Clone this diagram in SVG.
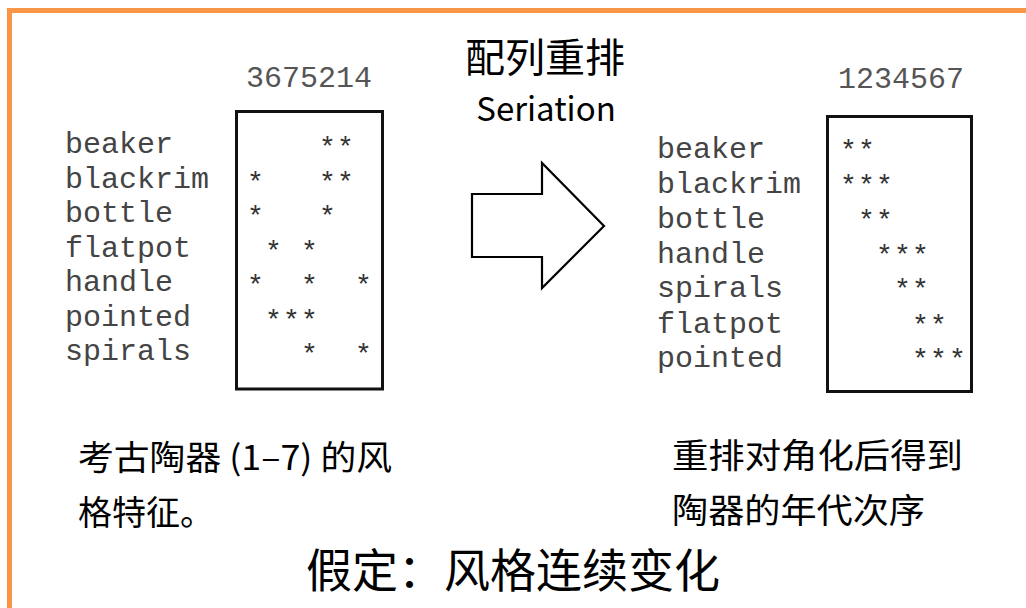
<svg xmlns="http://www.w3.org/2000/svg" width="1026" height="608" viewBox="0 0 1026 608">
<style>
.mono{font-family:"Liberation Mono","Courier New",monospace;font-size:30px;fill:#444}
.num{font-family:"Liberation Mono","Courier New",monospace;font-size:30px;fill:#555}
.star{font-family:"Liberation Mono","Courier New",monospace;font-size:28px;fill:#333}
.box{fill:none;stroke:#111;stroke-width:3}
.cjk{font-family:"Noto Sans CJK SC","Noto Sans",sans-serif;fill:#000}
</style>
<rect x="0" y="0" width="1026" height="608" fill="#fff"/>
<g id="frame"><rect x="9.5" y="10.5" width="1040" height="640" fill="none" stroke="#F79646" stroke-width="5"/></g>
<g id="title">
<text class="cjk" x="545" y="72" font-size="40" text-anchor="middle">配列重排</text>
<text class="cjk" x="546" y="121" font-size="33" text-anchor="middle">Seriation</text>
</g>
<g id="left-matrix">
<text class="num" x="246" y="87">3675214</text>
<rect class="box" x="236.5" y="111.5" width="146" height="277.5"/>
<text class="mono" x="65" y="153">beaker</text>
<text class="mono" x="65" y="188">blackrim</text>
<text class="mono" x="65" y="222">bottle</text>
<text class="mono" x="65" y="257">flatpot</text>
<text class="mono" x="65" y="291">handle</text>
<text class="mono" x="65" y="326">pointed</text>
<text class="mono" x="65" y="360">spirals</text>
<text class="star" x="319 337" y="156">**</text>
<text class="star" x="247 319 337" y="191">***</text>
<text class="star" x="247 319" y="225">**</text>
<text class="star" x="265 301" y="260">**</text>
<text class="star" x="247 301 355" y="294">***</text>
<text class="star" x="265 283 301" y="329">***</text>
<text class="star" x="301 355" y="363">**</text>
</g>
<g id="connectors">
<polygon points="472,194 542,194 542,163 604,226 542,288 542,257 472,257" fill="#fff" stroke="#000" stroke-width="2.2" stroke-linejoin="miter"/>
</g>
<g id="right-matrix">
<text class="num" x="838" y="88">1234567</text>
<rect class="box" x="827.5" y="116.5" width="144" height="275"/>
<text class="mono" x="657" y="158">beaker</text>
<text class="mono" x="657" y="193">blackrim</text>
<text class="mono" x="657" y="228">bottle</text>
<text class="mono" x="657" y="263">handle</text>
<text class="mono" x="657" y="297">spirals</text>
<text class="mono" x="657" y="333">flatpot</text>
<text class="mono" x="657" y="367">pointed</text>
<text class="star" x="840 858" y="159">**</text>
<text class="star" x="840 858 876" y="194">***</text>
<text class="star" x="858 876" y="229">**</text>
<text class="star" x="876 894 912" y="264">***</text>
<text class="star" x="894 912" y="298">**</text>
<text class="star" x="912 930" y="334">**</text>
<text class="star" x="912 930 949" y="368">***</text>
</g>
<g id="caption-left">
<text class="cjk" x="78" y="470" font-size="34" textLength="314" lengthAdjust="spacingAndGlyphs">考古陶器 (1–7) 的风</text>
<text class="cjk" x="78" y="525" font-size="34">格特征。</text>
</g>
<g id="caption-right">
<text class="cjk" x="672" y="468" font-size="34" textLength="291" lengthAdjust="spacingAndGlyphs">重排对角化后得到</text>
<text class="cjk" x="672" y="523" font-size="34" textLength="253" lengthAdjust="spacingAndGlyphs">陶器的年代次序</text>
</g>
<g id="assumption">
<text class="cjk" x="513" y="587" font-size="46" text-anchor="middle">假定：风格连续变化</text>
</g>
</svg>
